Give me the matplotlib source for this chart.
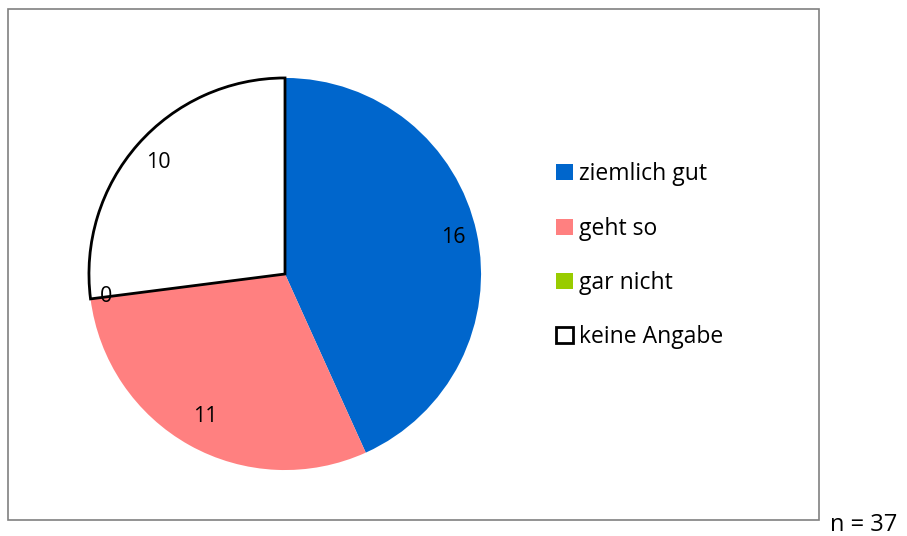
import numpy as np
import matplotlib.pyplot as plt
from matplotlib.patches import Patch, Rectangle

### Data
categories = ['ziemlich gut', 'geht so', 'gar nicht', 'keine Angabe']
values = [16, 11, 0, 10]
colors = ['#0066CC', '#FF8080', '#99CC00', '#FFFFFF']
label_dist = [0.88, 0.83, 0.92, 0.86]
n_total = 37

plt.rcParams['font.family'] = ['Open Sans', 'DejaVu Sans']

fig = plt.figure(figsize=(9.07, 5.36), dpi=100)

### Border around the chart area
fig.patches.append(Rectangle((8 / 907, 1 - 520 / 536), (819 - 8) / 907, (520 - 9) / 536,
                             transform=fig.transFigure, fill=False,
                             edgecolor='#808080', linewidth=1.2))

### Pie axes (square)
ax = fig.add_axes([(285 - 198) / 907, (536 - 472) / 536, 396 / 907, 396 / 536])
wedges, _ = ax.pie(values, colors=colors, startangle=90, counterclock=False,
                   radius=1, wedgeprops=dict(linewidth=0))
# white slice gets a black outline
wedges[3].set_edgecolor('black')
wedges[3].set_linewidth(2)
ax.set_xlim(-1.01, 1.01)
ax.set_ylim(-1.01, 1.01)
ax.set_aspect('equal')
ax.axis('off')

### Value labels
for w, v, d in zip(wedges, values, label_dist):
    ang = np.deg2rad((w.theta1 + w.theta2) / 2)
    ax.text(d * np.cos(ang), d * np.sin(ang), str(v), ha='center', va='center', fontsize=15.5)

### Legend
handles = [Patch(facecolor=c, edgecolor='black' if c == '#FFFFFF' else c,
                 linewidth=2 if c == '#FFFFFF' else 0) for c in colors]
fig.legend(handles, categories, loc='upper left', bbox_to_anchor=(545 / 907, 1 - 151 / 536),
           frameon=False, fontsize=16.5, labelspacing=1.32, handlelength=0.7,
           handleheight=0.7, handletextpad=0.3, borderpad=0)

fig.text(830 / 907, 1 - 525 / 536, 'n = ' + str(n_total), ha='left', va='center', fontsize=17)

fig.savefig('out.png', dpi=100)
